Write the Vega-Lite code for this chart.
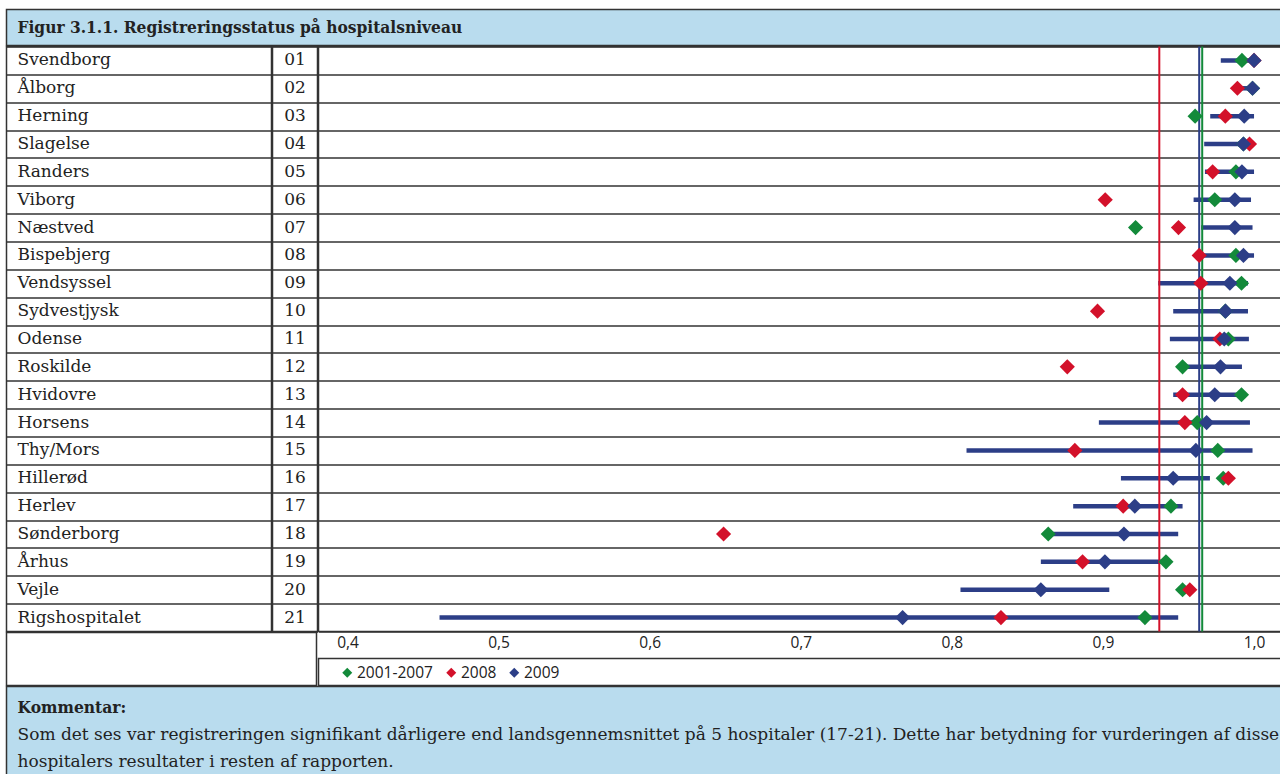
{
  "$schema": "https://vega.github.io/schema/vega-lite/v6.json",
  "padding": {"left": 5.5, "top": 8.5, "right": 0, "bottom": 0},
  "spacing": -3,
  "config": {"font": "DejaVu Serif", "view": {"stroke": null}},
  "resolve": {"scale": {"x": "independent", "y": "independent", "color": "independent"}, "legend": {"color": "independent"}},
  "datasets": {
    "hosp": [
      {"code": "01", "name": "Svendborg", "lo": 0.978, "hi": 1.0},
      {"code": "02", "name": "Ålborg", "lo": 0.99, "hi": 1.0},
      {"code": "03", "name": "Herning", "lo": 0.971, "hi": 1.0},
      {"code": "04", "name": "Slagelse", "lo": 0.967, "hi": 0.998},
      {"code": "05", "name": "Randers", "lo": 0.9675, "hi": 1.0},
      {"code": "06", "name": "Viborg", "lo": 0.96, "hi": 0.998},
      {"code": "07", "name": "Næstved", "lo": 0.965, "hi": 0.999},
      {"code": "08", "name": "Bispebjerg", "lo": 0.965, "hi": 1.0},
      {"code": "09", "name": "Vendsyssel", "lo": 0.9366, "hi": 0.996},
      {"code": "10", "name": "Sydvestjysk", "lo": 0.9465, "hi": 0.996},
      {"code": "11", "name": "Odense", "lo": 0.9443, "hi": 0.9966},
      {"code": "12", "name": "Roskilde", "lo": 0.953, "hi": 0.992},
      {"code": "13", "name": "Hvidovre", "lo": 0.9465, "hi": 0.99},
      {"code": "14", "name": "Horsens", "lo": 0.8973, "hi": 0.9973},
      {"code": "15", "name": "Thy/Mors", "lo": 0.8097, "hi": 0.999},
      {"code": "16", "name": "Hillerød", "lo": 0.9119, "hi": 0.9708},
      {"code": "17", "name": "Herlev", "lo": 0.8803, "hi": 0.9527},
      {"code": "18", "name": "Sønderborg", "lo": 0.8638, "hi": 0.9498},
      {"code": "19", "name": "Århus", "lo": 0.8589, "hi": 0.94},
      {"code": "20", "name": "Vejle", "lo": 0.8057, "hi": 0.9042},
      {"code": "21", "name": "Rigshospitalet", "lo": 0.4609, "hi": 0.9498}
    ],
    "pts": [
      {"code": "01", "series": "2001-2007", "value": 0.992},
      {"code": "02", "series": "2001-2007", "value": 0.999},
      {"code": "03", "series": "2001-2007", "value": 0.961},
      {"code": "04", "series": "2001-2007", "value": 0.993},
      {"code": "05", "series": "2001-2007", "value": 0.988},
      {"code": "06", "series": "2001-2007", "value": 0.974},
      {"code": "07", "series": "2001-2007", "value": 0.9216},
      {"code": "08", "series": "2001-2007", "value": 0.988},
      {"code": "09", "series": "2001-2007", "value": 0.9917},
      {"code": "10", "series": "2001-2007", "value": 0.981},
      {"code": "11", "series": "2001-2007", "value": 0.983},
      {"code": "12", "series": "2001-2007", "value": 0.9527},
      {"code": "13", "series": "2001-2007", "value": 0.9917},
      {"code": "14", "series": "2001-2007", "value": 0.9624},
      {"code": "15", "series": "2001-2007", "value": 0.976},
      {"code": "16", "series": "2001-2007", "value": 0.9796},
      {"code": "17", "series": "2001-2007", "value": 0.945},
      {"code": "18", "series": "2001-2007", "value": 0.8638},
      {"code": "19", "series": "2001-2007", "value": 0.9417},
      {"code": "20", "series": "2001-2007", "value": 0.9527},
      {"code": "21", "series": "2001-2007", "value": 0.9278},
      {"code": "01", "series": "2008", "value": 1.0},
      {"code": "02", "series": "2008", "value": 0.989},
      {"code": "03", "series": "2008", "value": 0.981},
      {"code": "04", "series": "2008", "value": 0.997},
      {"code": "05", "series": "2008", "value": 0.9726},
      {"code": "06", "series": "2008", "value": 0.9015},
      {"code": "07", "series": "2008", "value": 0.95},
      {"code": "08", "series": "2008", "value": 0.9637},
      {"code": "09", "series": "2008", "value": 0.9648},
      {"code": "10", "series": "2008", "value": 0.8964},
      {"code": "11", "series": "2008", "value": 0.9774},
      {"code": "12", "series": "2008", "value": 0.8764},
      {"code": "13", "series": "2008", "value": 0.9527},
      {"code": "14", "series": "2008", "value": 0.9542},
      {"code": "15", "series": "2008", "value": 0.8814},
      {"code": "16", "series": "2008", "value": 0.983},
      {"code": "17", "series": "2008", "value": 0.9134},
      {"code": "18", "series": "2008", "value": 0.6489},
      {"code": "19", "series": "2008", "value": 0.8865},
      {"code": "20", "series": "2008", "value": 0.9575},
      {"code": "21", "series": "2008", "value": 0.8325},
      {"code": "01", "series": "2009", "value": 1.0},
      {"code": "02", "series": "2009", "value": 0.999},
      {"code": "03", "series": "2009", "value": 0.9935},
      {"code": "04", "series": "2009", "value": 0.993},
      {"code": "05", "series": "2009", "value": 0.992},
      {"code": "06", "series": "2009", "value": 0.9873},
      {"code": "07", "series": "2009", "value": 0.9873},
      {"code": "08", "series": "2009", "value": 0.993},
      {"code": "09", "series": "2009", "value": 0.984},
      {"code": "10", "series": "2009", "value": 0.9811},
      {"code": "11", "series": "2009", "value": 0.9803},
      {"code": "12", "series": "2009", "value": 0.9778},
      {"code": "13", "series": "2009", "value": 0.974},
      {"code": "14", "series": "2009", "value": 0.9686},
      {"code": "15", "series": "2009", "value": 0.9615},
      {"code": "16", "series": "2009", "value": 0.9465},
      {"code": "17", "series": "2009", "value": 0.9211},
      {"code": "18", "series": "2009", "value": 0.9139},
      {"code": "19", "series": "2009", "value": 0.9013},
      {"code": "20", "series": "2009", "value": 0.8589},
      {"code": "21", "series": "2009", "value": 0.7674}
    ],
    "avg": [
      {"series": "2008", "avg": 0.9373},
      {"series": "2009", "avg": 0.9637},
      {"series": "2001-2007", "avg": 0.9657}
    ],
    "legend": [
      {"series": "2001-2007"},
      {"series": "2008"},
      {"series": "2009"}
    ],
    "comment": [
      {"line": 1, "text": "Kommentar:"},
      {"line": 2, "text": "Som det ses var registreringen signifikant dårligere end landsgennemsnittet på 5 hospitaler (17-21). Dette har betydning for vurderingen af disse"},
      {"line": 3, "text": "hospitalers resultater i resten af rapporten."}
    ]
  },
  "vconcat": [
    {
      "width": 1275,
      "height": 36,
      "view": {"fill": "#b9dcee", "stroke": "#333333", "strokeWidth": 1.5},
      "data": {"values": [{"t": "Figur 3.1.1. Registreringsstatus på hospitalsniveau"}]},
      "mark": {"type": "text", "align": "left", "baseline": "middle", "dx": 11, "font": "DejaVu Serif Condensed, DejaVu Serif", "fontWeight": "bold", "fontSize": 17.2, "color": "#222222"},
      "encoding": {
        "text": {"field": "t"},
        "x": {"datum": 0, "type": "quantitative", "scale": {"domain": [0, 1]}, "axis": null}
      }
    },
    {
      "spacing": -3,
      "resolve": {"scale": {"x": "independent", "y": "independent", "color": "independent"}, "legend": {"color": "independent"}},
      "hconcat": [
        {
          "spacing": -3,
          "resolve": {"scale": {"x": "independent", "y": "independent"}},
          "vconcat": [
            {
              "spacing": -3,
              "resolve": {"scale": {"x": "independent", "y": "independent"}},
              "hconcat": [
                {
                  "width": 265,
                  "height": 585,
                  "view": {"stroke": "#333333", "strokeWidth": 1.5},
                  "data": {"name": "hosp"},
                  "mark": {"type": "text", "align": "left", "baseline": "middle", "dx": 11, "fontSize": 17, "color": "#222222"},
                  "encoding": {
                    "y": {"field": "code", "type": "nominal", "scale": {"domain": ["01","02","03","04","05","06","07","08","09","10","11","12","13","14","15","16","17","18","19","20","21"], "paddingInner": 0, "paddingOuter": 0}, "axis": {"labels": false, "ticks": false, "domain": false, "grid": true, "gridColor": "#333333", "gridWidth": 1.5, "gridOpacity": 1, "tickBand": "extent", "title": null, "minExtent": 0, "maxExtent": 0}},
                    "x": {"datum": 0, "type": "quantitative", "scale": {"domain": [0, 1]}, "axis": null},
                    "text": {"field": "name"}
                  }
                },
                {
                  "width": 45,
                  "height": 585,
                  "view": {"stroke": "#333333", "strokeWidth": 1.5},
                  "data": {"name": "hosp"},
                  "mark": {"type": "text", "align": "center", "baseline": "middle", "fontSize": 17, "color": "#222222"},
                  "encoding": {
                    "y": {"field": "code", "type": "nominal", "scale": {"domain": ["01","02","03","04","05","06","07","08","09","10","11","12","13","14","15","16","17","18","19","20","21"], "paddingInner": 0, "paddingOuter": 0}, "axis": {"labels": false, "ticks": false, "domain": false, "grid": true, "gridColor": "#333333", "gridWidth": 1.5, "gridOpacity": 1, "tickBand": "extent", "title": null, "minExtent": 0, "maxExtent": 0}},
                    "x": {"datum": 0.5, "type": "quantitative", "scale": {"domain": [0, 1]}, "axis": null},
                    "text": {"field": "code"}
                  }
                }
              ]
            },
            {
              "width": 310,
              "height": 53,
              "view": {"stroke": "#333333", "strokeWidth": 1.5},
              "data": {"values": []},
              "mark": {"type": "text"},
              "encoding": {"text": {"value": ""}}
            }
          ]
        },
        {
          "spacing": -1.5,
          "resolve": {"scale": {"x": "independent", "y": "independent", "color": "independent"}, "legend": {"color": "independent"}},
          "vconcat": [
            {
              "width": 965,
              "height": 585,
              "view": {"stroke": "#333333", "strokeWidth": 1.5},
              "layer": [
                {
                  "data": {"name": "hosp"},
                  "mark": {"type": "rule", "strokeWidth": 4.5, "color": "#2c3e87"},
                  "encoding": {
                    "y": {"field": "code", "type": "nominal", "scale": {"domain": ["01","02","03","04","05","06","07","08","09","10","11","12","13","14","15","16","17","18","19","20","21"], "paddingInner": 0, "paddingOuter": 0}, "axis": {"labels": false, "ticks": false, "domain": false, "grid": true, "gridColor": "#333333", "gridWidth": 1.5, "gridOpacity": 1, "tickBand": "extent", "title": null, "minExtent": 0, "maxExtent": 0}},
                    "x": {"field": "lo", "type": "quantitative", "scale": {"domain": [0.3808, 1.0195], "nice": false, "zero": false}, "axis": {"values": [0.4, 0.5, 0.6, 0.7, 0.8, 0.9, 1.0], "labelExpr": "replace(format(datum.value, '.1f'), '.', ',')", "ticks": false, "tickSize": 0, "domain": false, "grid": false, "labelPadding": 4, "labelFlush": false, "labelFont": "Open Sans", "labelFontSize": 15.5, "labelColor": "#222222", "title": null, "minExtent": 26, "maxExtent": 26}},
                    "x2": {"field": "hi"}
                  }
                },
                {
                  "data": {"name": "avg"},
                  "mark": {"type": "rule", "strokeWidth": 2},
                  "encoding": {
                    "x": {"field": "avg", "type": "quantitative", "scale": {"domain": [0.3808, 1.0195], "nice": false, "zero": false}, "axis": {"values": [0.4, 0.5, 0.6, 0.7, 0.8, 0.9, 1.0], "labelExpr": "replace(format(datum.value, '.1f'), '.', ',')", "ticks": false, "tickSize": 0, "domain": false, "grid": false, "labelPadding": 4, "labelFlush": false, "labelFont": "Open Sans", "labelFontSize": 15.5, "labelColor": "#222222", "title": null, "minExtent": 26, "maxExtent": 26}},
                    "color": {"field": "series", "type": "nominal", "scale": {"domain": ["2001-2007", "2008", "2009"], "range": ["#138a3a", "#d3112a", "#2c3e87"]}, "legend": null}
                  }
                },
                {
                  "data": {"name": "pts"},
                  "mark": {"type": "point", "shape": "diamond", "filled": true, "size": 230, "opacity": 1, "strokeWidth": 0},
                  "encoding": {
                    "y": {"field": "code", "type": "nominal"},
                    "x": {"field": "value", "type": "quantitative", "scale": {"domain": [0.3808, 1.0195], "nice": false, "zero": false}, "axis": {"values": [0.4, 0.5, 0.6, 0.7, 0.8, 0.9, 1.0], "labelExpr": "replace(format(datum.value, '.1f'), '.', ',')", "ticks": false, "tickSize": 0, "domain": false, "grid": false, "labelPadding": 4, "labelFlush": false, "labelFont": "Open Sans", "labelFontSize": 15.5, "labelColor": "#222222", "title": null, "minExtent": 26, "maxExtent": 26}},
                    "color": {"field": "series", "type": "nominal", "scale": {"domain": ["2001-2007", "2008", "2009"], "range": ["#138a3a", "#d3112a", "#2c3e87"]}, "legend": null}
                  }
                }
              ]
            },
            {
              "width": 965,
              "height": 27,
              "view": {"stroke": "#333333", "strokeWidth": 1.5},
              "data": {"name": "legend"},
              "transform": [{"filter": "false"}],
              "mark": {"type": "point", "shape": "diamond", "filled": true},
              "encoding": {
                "color": {"field": "series", "type": "nominal", "scale": {"domain": ["2001-2007", "2008", "2009"], "range": ["#138a3a", "#d3112a", "#2c3e87"]}, "legend": {"orient": "none", "legendX": 21, "legendY": 6, "direction": "horizontal", "title": null, "symbolType": "diamond", "symbolSize": 100, "symbolStrokeWidth": 0, "symbolOpacity": 1, "labelFont": "Open Sans", "labelFontSize": 15.5, "labelColor": "#222222", "columnPadding": 10, "labelOffset": 2, "padding": 0}}
              }
            }
          ]
        }
      ]
    },
    {
      "width": 1275,
      "height": 90,
      "view": {"fill": "#b9dcee", "stroke": "#333333", "strokeWidth": 1.5},
      "data": {"name": "comment"},
      "encoding": {
        "y": {"field": "line", "type": "quantitative", "scale": {"domain": [0.2037, 3.537], "reverse": true, "nice": false, "zero": false}, "axis": null},
        "x": {"datum": 0, "type": "quantitative", "scale": {"domain": [0, 1]}, "axis": null},
        "text": {"field": "text"}
      },
      "layer": [
        {
          "transform": [{"filter": "datum.line == 1"}],
          "mark": {"type": "text", "align": "left", "baseline": "middle", "dx": 11, "font": "DejaVu Serif Condensed, DejaVu Serif", "fontWeight": "bold", "fontSize": 17.3, "color": "#222222"}
        },
        {
          "transform": [{"filter": "datum.line > 1"}],
          "mark": {"type": "text", "align": "left", "baseline": "middle", "dx": 11, "fontSize": 17, "color": "#222222"}
        }
      ]
    }
  ]
}
